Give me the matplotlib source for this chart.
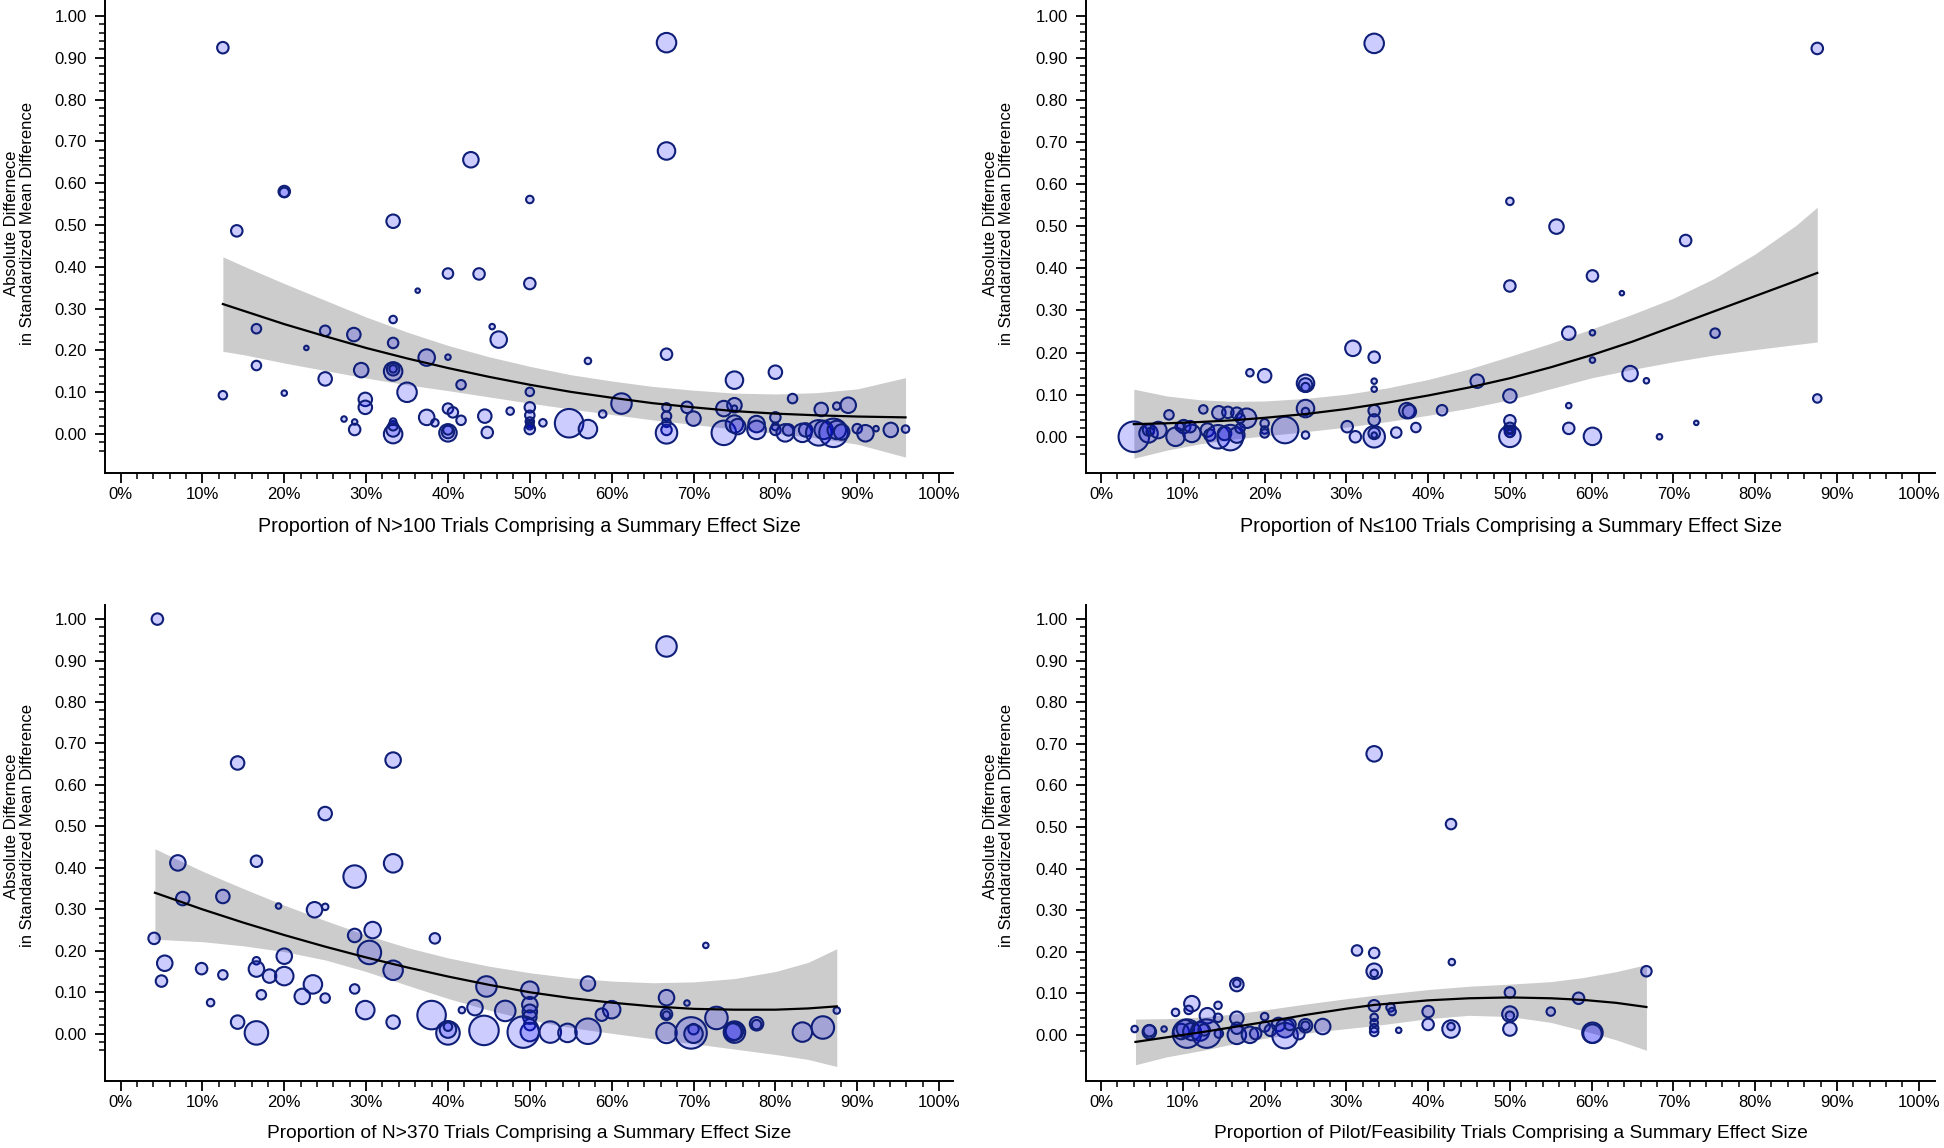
import matplotlib
matplotlib.use("Agg")
import matplotlib.pyplot as plt
from matplotlib import font_manager
from matplotlib.ticker import FixedLocator
import numpy as np

# ---- panel 1 : N>100 trials ----
p1_x = [12.5, 14.2, 20.0, 20.0, 16.6, 16.6, 12.5, 22.7, 20.0, 25.0, 25.0, 28.5, 29.4, 29.9, 29.9, 27.3,
        28.6, 28.6, 33.3, 33.3, 33.3, 33.3, 33.3, 33.3, 33.3, 33.3, 33.3, 33.3, 35.0, 37.4, 37.4, 38.4,
        36.3, 40.0, 40.0, 43.8, 42.8, 41.6, 40.0, 40.6, 41.6, 40.0, 40.0, 40.0, 44.5, 44.8, 45.4, 46.2,
        66.7, 66.7, 50.0, 50.0, 57.1, 66.7, 80.0, 75.0, 82.1, 50.0, 50.0, 50.0, 50.0, 50.0, 50.0, 50.0,
        47.6, 51.6, 54.8, 57.1, 58.9, 61.2, 66.7, 66.7, 66.7, 66.7, 66.7, 69.2, 70.0, 73.7, 75.0, 75.0,
        73.7, 75.0, 75.4, 77.7, 77.7, 80.0, 80.0, 80.0, 81.2, 81.6, 83.3, 83.7, 85.6, 85.3, 85.9, 87.1,
        87.5, 87.5, 88.9, 88.1, 90.0, 91.0, 92.3, 94.1, 95.9]
p1_y = [0.924, 0.486, 0.580, 0.578, 0.252, 0.164, 0.093, 0.206, 0.098, 0.247, 0.132, 0.238, 0.153, 0.083,
        0.064, 0.036, 0.029, 0.011, 0.274, 0.218, 0.509, 0.150, 0.155, 0.156, 0.000, 0.010, 0.020, 0.030,
        0.100, 0.183, 0.040, 0.027, 0.343, 0.184, 0.384, 0.383, 0.656, 0.118, 0.061, 0.052, 0.033, 0.003,
        0.005, 0.010, 0.043, 0.004, 0.257, 0.226, 0.936, 0.677, 0.561, 0.360, 0.175, 0.191, 0.148, 0.129,
        0.085, 0.101, 0.064, 0.045, 0.030, 0.025, 0.020, 0.012, 0.055, 0.027, 0.026, 0.012, 0.048, 0.073,
        0.064, 0.043, 0.027, 0.010, 0.003, 0.064, 0.037, 0.061, 0.069, 0.062, 0.003, 0.024, 0.018, 0.024,
        0.010, 0.040, 0.018, 0.010, 0.003, 0.010, 0.003, 0.010, 0.059, 0.003, 0.010, 0.003, 0.010, 0.067,
        0.069, 0.005, 0.013, 0.002, 0.013, 0.010, 0.012]
p1_w = [13, 13, 13, 11, 11, 11, 10, 6, 7, 12, 15, 15, 16, 15, 15, 7, 7, 13, 9, 12, 15, 20, 14, 9, 20, 15,
        11, 8, 21, 18, 17, 9, 6, 7, 12, 13, 17, 11, 12, 12, 11, 19, 14, 11, 15, 13, 7, 18, 21, 19, 9, 13,
        8, 13, 15, 19, 11, 10, 12, 11, 10, 9, 9, 12, 9, 9, 30, 20, 9, 22, 10, 11, 10, 12, 23, 13, 16, 17,
        16, 7, 26, 19, 17, 18, 20, 12, 9, 12, 19, 13, 20, 15, 15, 27, 20, 30, 20, 9, 17, 17, 11, 18, 7,
        16, 9]
p1_cx = [12.5, 15, 20, 25, 30, 35, 40, 45, 50, 55, 60, 65, 70, 75, 80, 85, 90, 95.9]
p1_fit = [0.311, 0.295, 0.263, 0.234, 0.206, 0.181, 0.158, 0.137, 0.118, 0.101, 0.087, 0.074, 0.064,
          0.055, 0.049, 0.045, 0.042, 0.040]
p1_hi = [0.424, 0.402, 0.360, 0.320, 0.280, 0.244, 0.212, 0.185, 0.162, 0.142, 0.127, 0.114, 0.105,
         0.098, 0.096, 0.099, 0.108, 0.135]
p1_lo = [0.198, 0.190, 0.170, 0.152, 0.134, 0.118, 0.104, 0.089, 0.074, 0.060, 0.047, 0.034, 0.023,
         0.012, 0.002, -0.009, -0.024, -0.055]

# ---- panel 2 : N<=100 trials ----
p2_x = [33.4, 30.8, 33.4, 18.2, 20.0, 25.0, 25.0, 25.0, 33.4, 33.4, 25.0, 25.0, 8.3, 12.5, 14.4, 15.5,
        16.6, 17.8, 17.0, 10.1, 4.0, 5.8, 5.8, 6.0, 7.0, 9.1, 9.6, 11.1, 10.9, 13.0, 13.3, 14.3, 15.1,
        15.8, 16.6, 17.0, 20.0, 20.0, 20.0, 22.5, 25.0, 30.1, 31.1, 33.4, 33.4, 33.4, 33.4, 33.4, 36.1,
        37.4, 37.7, 38.5, 41.7, 46.0, 87.6, 50.0, 55.7, 71.5, 50.0, 60.1, 63.7, 57.2, 60.1, 75.1, 60.1,
        64.7, 66.7, 50.0, 87.6, 57.2, 50.0, 50.0, 50.0, 50.0, 50.0, 50.0, 57.2, 60.1, 68.3, 72.8]
p2_y = [0.934, 0.210, 0.189, 0.152, 0.145, 0.127, 0.123, 0.118, 0.132, 0.113, 0.067, 0.060, 0.052, 0.065,
        0.057, 0.058, 0.056, 0.044, 0.044, 0.024, 0.000, 0.008, 0.016, 0.012, 0.016, 0.000, 0.024, 0.008,
        0.024, 0.016, 0.004, 0.000, 0.008, -0.002, 0.004, 0.020, 0.032, 0.016, 0.008, 0.016, 0.004, 0.024,
        0.000, 0.062, 0.040, 0.000, 0.008, 0.004, 0.010, 0.062, 0.060, 0.022, 0.063, 0.132, 0.922, 0.559,
        0.499, 0.466, 0.358, 0.382, 0.341, 0.246, 0.247, 0.246, 0.182, 0.150, 0.133, 0.097, 0.091, 0.074,
        0.038, 0.020, 0.012, 0.001, 0.008, 0.015, 0.020, 0.001, 0.000, 0.033]
p2_w = [21, 17, 13, 9, 15, 19, 15, 10, 7, 7, 19, 9, 11, 10, 15, 13, 13, 21, 11, 15, 32, 20, 13, 9, 18,
        20, 10, 19, 13, 15, 13, 25, 15, 27, 17, 11, 10, 9, 10, 28, 9, 13, 13, 13, 13, 23, 13, 7, 12, 17,
        15, 11, 12, 15, 13, 9, 16, 13, 13, 13, 6, 15, 7, 11, 7, 17, 7, 15, 10, 7, 13, 13, 12, 23, 9, 7,
        13, 19, 7, 6]
p2_cx = [4.0, 8, 12, 16, 20, 25, 30, 35, 40, 45, 50, 55, 60, 65, 70, 75, 80, 85, 87.6]
p2_fit = [0.030, 0.032, 0.035, 0.039, 0.045, 0.054, 0.066, 0.081, 0.098, 0.117, 0.139, 0.165, 0.194,
          0.226, 0.262, 0.298, 0.334, 0.370, 0.389]
p2_hi = [0.113, 0.097, 0.088, 0.084, 0.085, 0.091, 0.101, 0.116, 0.136, 0.161, 0.191, 0.222, 0.256,
         0.291, 0.329, 0.376, 0.434, 0.502, 0.545]
p2_lo = [-0.051, -0.032, -0.017, -0.006, 0.002, 0.012, 0.023, 0.036, 0.051, 0.068, 0.088, 0.114, 0.140,
         0.160, 0.178, 0.194, 0.207, 0.219, 0.225]

# ---- panel 3 : N>370 trials ----
p3_x = [4.5, 14.3, 33.3, 25.0, 7.0, 16.6, 33.3, 28.6, 7.6, 12.5, 19.3, 23.7, 25.0, 4.1, 28.6, 30.8, 30.4,
        33.3, 38.4, 5.4, 5.0, 9.9, 12.5, 11.0, 16.6, 16.6, 18.2, 20.0, 20.0, 17.2, 23.5, 22.2, 25.0, 28.6,
        29.9, 14.3, 16.6, 33.3, 38.0, 40.0, 40.0, 40.0, 41.7, 43.3, 44.7, 44.4, 66.7, 71.5, 57.1, 50.0,
        50.0, 50.0, 50.0, 50.0, 50.0, 49.2, 47.0, 52.5, 54.6, 57.1, 58.8, 60.0, 66.7, 66.7, 66.7, 66.7,
        69.2, 69.7, 70.0, 70.0, 72.8, 75.0, 75.0, 74.8, 77.7, 77.7, 83.3, 85.8, 87.5]
p3_y = [1.000, 0.653, 0.660, 0.531, 0.412, 0.416, 0.411, 0.379, 0.326, 0.331, 0.308, 0.299, 0.306, 0.230,
        0.237, 0.250, 0.196, 0.153, 0.230, 0.170, 0.127, 0.157, 0.142, 0.075, 0.176, 0.156, 0.139, 0.187,
        0.139, 0.094, 0.119, 0.090, 0.086, 0.108, 0.057, 0.028, 0.002, 0.028, 0.045, 0.002, 0.010, 0.017,
        0.057, 0.063, 0.114, 0.008, 0.934, 0.213, 0.121, 0.105, 0.070, 0.053, 0.040, 0.022, 0.004, 0.004,
        0.055, 0.004, 0.002, 0.006, 0.046, 0.058, 0.087, 0.047, 0.045, 0.002, 0.074, 0.002, 0.011, 0.000,
        0.038, 0.004, 0.006, 0.004, 0.024, 0.022, 0.004, 0.015, 0.056]
p3_w = [13, 15, 17, 15, 17, 13, 20, 24, 15, 15, 7, 17, 8, 13, 15, 18, 25, 21, 12, 17, 13, 13, 11, 9, 9,
        17, 15, 17, 20, 11, 20, 17, 11, 11, 20, 15, 25, 15, 30, 25, 18, 10, 8, 17, 22, 31, 22, 7, 16, 19,
        17, 16, 15, 13, 20, 33, 22, 23, 20, 27, 14, 19, 17, 13, 9, 22, 7, 33, 12, 20, 24, 23, 19, 19, 15,
        11, 21, 24, 8]
p3_cx = [4.2, 10, 15, 20, 25, 30, 35, 40, 45, 50, 55, 60, 65, 70, 75, 80, 84, 87.5]
p3_fit = [0.340, 0.300, 0.268, 0.238, 0.210, 0.184, 0.160, 0.138, 0.118, 0.100, 0.086, 0.075, 0.066,
          0.060, 0.058, 0.058, 0.061, 0.066]
p3_hi = [0.446, 0.392, 0.350, 0.310, 0.273, 0.238, 0.208, 0.183, 0.163, 0.147, 0.135, 0.127, 0.123,
         0.125, 0.133, 0.150, 0.172, 0.205]
p3_lo = [0.228, 0.222, 0.212, 0.198, 0.178, 0.150, 0.117, 0.085, 0.057, 0.033, 0.015, 0.001, -0.012,
         -0.024, -0.037, -0.050, -0.062, -0.079]

# ---- panel 4 : pilot / feasibility trials ----
p4_x = [33.4, 42.8, 31.3, 33.4, 33.4, 33.4, 42.9, 16.6, 16.6, 11.1, 10.7, 14.3, 9.1, 13.0, 14.3, 16.6,
        20.0, 33.4, 35.4, 35.6, 40.0, 40.0, 42.8, 42.8, 36.4, 33.4, 33.4, 33.4, 33.4, 4.1, 5.9, 5.9, 7.7,
        10.5, 9.8, 10.3, 11.1, 12.1, 12.9, 12.6, 14.4, 16.6, 16.6, 18.2, 18.9, 20.0, 20.7, 21.7, 22.5,
        22.5, 23.1, 24.2, 25.0, 25.0, 27.1, 50.0, 50.0, 50.0, 50.0, 55.0, 58.4, 60.1, 60.1, 66.7]
p4_y = [0.676, 0.507, 0.203, 0.197, 0.153, 0.148, 0.175, 0.121, 0.124, 0.075, 0.060, 0.071, 0.054, 0.046,
        0.041, 0.040, 0.044, 0.070, 0.066, 0.056, 0.056, 0.025, 0.014, 0.020, 0.011, 0.042, 0.029, 0.016,
        0.007, 0.014, 0.007, 0.010, 0.014, 0.003, 0.008, 0.015, 0.008, 0.008, 0.003, 0.012, 0.003, 0.000,
        0.016, 0.000, 0.003, 0.020, 0.011, 0.025, 0.016, -0.002, 0.025, 0.003, 0.022, 0.022, 0.020, 0.102,
        0.050, 0.046, 0.014, 0.056, 0.088, 0.005, 0.003, 0.153]
p4_w = [17, 12, 12, 12, 17, 9, 8, 15, 9, 17, 10, 9, 9, 17, 10, 15, 9, 13, 10, 9, 13, 13, 19, 9, 7, 9, 9,
        10, 10, 8, 15, 13, 7, 30, 17, 19, 19, 20, 30, 13, 10, 20, 13, 18, 13, 12, 13, 15, 20, 27, 13, 13,
        15, 10, 17, 12, 17, 10, 15, 10, 13, 22, 20, 12]
p4_cx = [4.2, 8, 12.5, 16.6, 20.7, 25, 30, 33.4, 40, 45, 50, 55, 59, 63, 66.7]
p4_fit = [-0.017, -0.006, 0.007, 0.020, 0.033, 0.048, 0.063, 0.072, 0.083, 0.088, 0.090, 0.088, 0.084,
          0.077, 0.067]
p4_hi = [0.038, 0.039, 0.043, 0.051, 0.062, 0.074, 0.087, 0.095, 0.109, 0.117, 0.122, 0.128, 0.138,
         0.152, 0.169]
p4_lo = [-0.072, -0.053, -0.037, -0.020, -0.006, 0.004, 0.015, 0.022, 0.039, 0.047, 0.044, 0.030, 0.010,
         -0.012, -0.037]

ylab = "Absolute Differnece\nin Standardized Mean Difference"
xlabs = ["Proportion of N>100 Trials Comprising a Summary Effect Size",
         "Proportion of N\u2264100 Trials Comprising a Summary Effect Size",
         "Proportion of N>370 Trials Comprising a Summary Effect Size",
         "Proportion of Pilot/Feasibility Trials Comprising a Summary Effect Size"]

plt.rcParams['font.family'] = ['Liberation Sans', 'DejaVu Sans']

# the lower x titles use a narrow face when one is installed
narrow_files = [f.fname for f in font_manager.fontManager.ttflist
                if f.name == 'Liberation Sans Narrow' and f.style == 'normal' and f.weight in (400, 'normal')]
if narrow_files:
    big_font = dict(fontproperties=font_manager.FontProperties(fname=narrow_files[0], size=16.5))
else:
    big_font = dict(fontsize=13.8)

W, H = 1944, 1148
fig = plt.figure(figsize=(W / 100, H / 100), dpi=100)


def make_axes(left, right, top, bottom):
    return fig.add_axes([left / W, 1 - bottom / H, (right - left) / W, (bottom - top) / H])


def draw(ax, x, y, w, cx, fit, lo, hi, xlim, ylim, xlabel, big, lab_y, ylab_x, ylab_y):
    ax.fill_between(cx, lo, hi, color='#cccccc', lw=0, zorder=1)
    s = [(0.72 * (v - 1.5)) ** 2 for v in w]
    ax.scatter(x, y, s=s, facecolors=(0.0, 0.0, 1.0, 0.2), edgecolors='#0f1f78',
               linewidths=1.5, zorder=2)
    ax.plot(cx, fit, color='black', lw=1.6, zorder=3)

    ax.set_xlim(*xlim)
    ax.set_ylim(*ylim)
    for side in ['top', 'right']:
        ax.spines[side].set_visible(False)
    for side in ['left', 'bottom']:
        ax.spines[side].set_linewidth(1.4)
    xt = list(range(0, 101, 10))
    ax.set_xticks(xt)
    ax.set_xticklabels([f"{v}%" for v in xt])
    ax.xaxis.set_minor_locator(FixedLocator(np.arange(0, 101, 2)))
    yt = np.round(np.arange(0, 1.001, 0.1), 2)
    ax.set_yticks(yt)
    ax.set_yticklabels([f"{v:.2f}" for v in yt])
    ax.yaxis.set_minor_locator(FixedLocator(np.round(np.arange(-0.04, 1.001, 0.02), 2)))
    ax.tick_params(which='major', length=7, width=1.3, labelsize=12)
    ax.tick_params(axis='x', which='major', pad=3)
    ax.tick_params(axis='y', which='major', pad=6)
    ax.tick_params(which='minor', length=4, width=1.1)

    ax.set_ylabel(ylab, fontsize=12, linespacing=1.05)
    ax.yaxis.set_label_coords(ylab_x, ylab_y)
    if big:
        ax.set_xlabel(xlabel, va='center', **big_font)
    else:
        ax.set_xlabel(xlabel, fontsize=14.2, va='center')
    ax.xaxis.set_label_coords(0.5, lab_y)


ax1 = make_axes(105, 953, 0, 473)
draw(ax1, p1_x, p1_y, p1_w, p1_cx, p1_fit, p1_lo, p1_hi, (-1.9, 101.7), (-0.093, 1.038),
     xlabs[0], False, -(527 - 473) / 473, -0.0825, 0.528)

ax2 = make_axes(1086, 1935, 0, 473)
draw(ax2, p2_x, p2_y, p2_w, p2_cx, p2_fit, p2_lo, p2_hi, (-1.85, 102.0), (-0.086, 1.037),
     xlabs[1], False, -(527 - 473) / 473, -0.0848, 0.528)

ax3 = make_axes(105, 953, 605, 1081)
draw(ax3, p3_x, p3_y, p3_w, p3_cx, p3_fit, p3_lo, p3_hi, (-1.9, 101.7), (-0.114, 1.034),
     xlabs[2], True, -(1133 - 1081) / 476, -0.0825, 0.536)

ax4 = make_axes(1086, 1935, 605, 1081)
draw(ax4, p4_x, p4_y, p4_w, p4_cx, p4_fit, p4_lo, p4_hi, (-1.85, 102.0), (-0.111, 1.034),
     xlabs[3], True, -(1133 - 1081) / 476, -0.0848, 0.536)

fig.savefig("out.png", dpi=100, facecolor='white')
